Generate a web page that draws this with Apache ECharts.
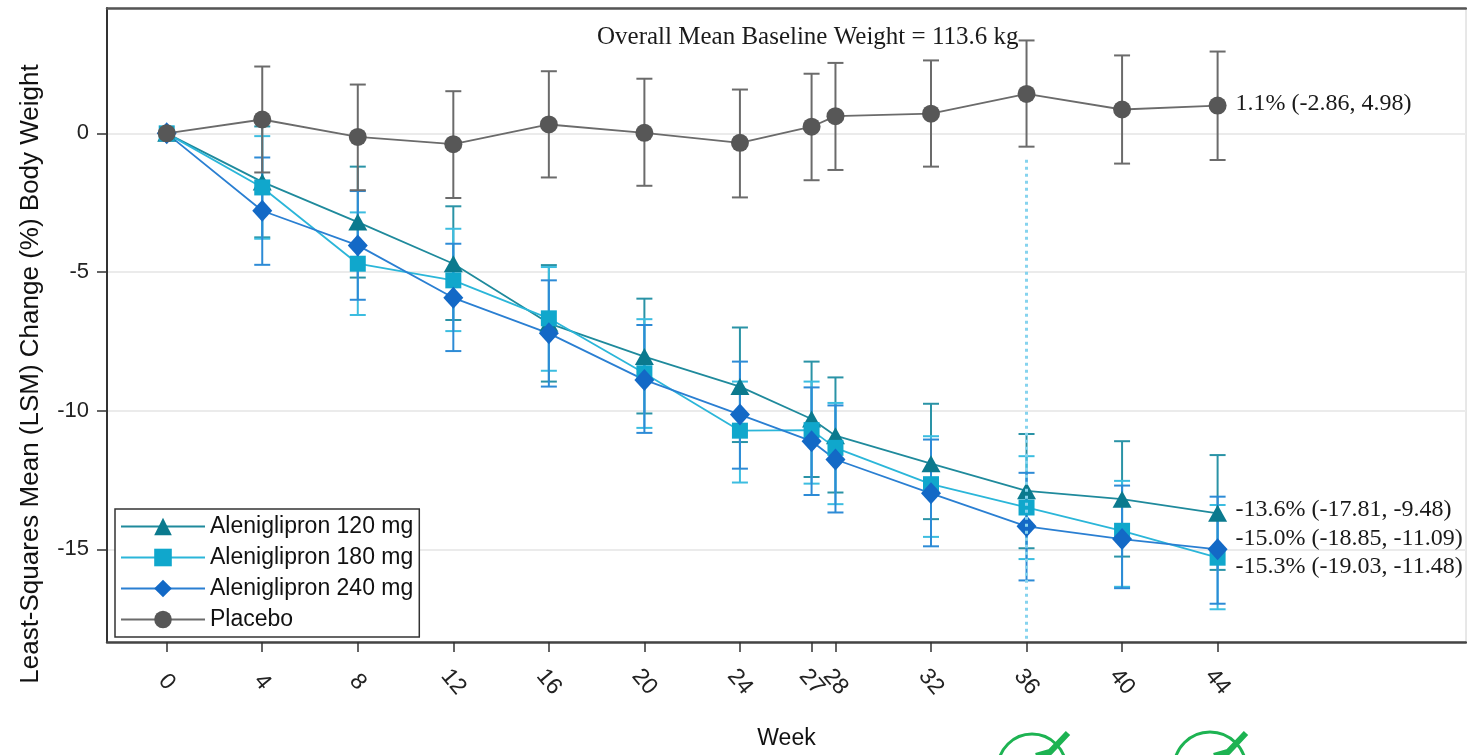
<!DOCTYPE html>
<html>
<head>
<meta charset="utf-8">
<script src="https://cdn.jsdelivr.net/npm/echarts@6/dist/echarts.min.js"></script>
<style>
  html, body { margin: 0; padding: 0; background: #fff; }
  #chart { width: 1467px; height: 755px; }
</style>
</head>
<body>
<div id="chart"></div>
<script>
// weeks on the x axis
const weeks = [0, 4, 8, 12, 16, 20, 24, 27, 28, 32, 36, 40, 44];
const yTicks = [0, -5, -10, -15];

// LSM % change and error bar ends
const lsm120 = [0, -1.75, -3.20, -4.70, -6.85, -8.05, -9.13, -10.30, -10.90, -11.91, -12.89, -13.19, -13.70];
const low120 = [null, -3.75, -5.20, -6.73, -8.95, -10.10, -11.13, -12.39, -12.95, -13.91, -14.96, -15.26, -15.74];
const high120 = [null, 0.25, -1.20, -2.63, -4.75, -5.96, -7.00, -8.23, -8.80, -9.75, -10.84, -11.10, -11.60];

const lsm180 = [0, -1.95, -4.70, -5.30, -6.67, -8.65, -10.72, -10.70, -11.34, -12.65, -13.49, -14.33, -15.30];
const low180 = [null, -3.80, -6.55, -7.13, -8.56, -10.62, -12.59, -12.63, -13.37, -14.55, -15.35, -16.35, -17.16];
const high180 = [null, -0.10, -2.85, -3.44, -4.82, -6.70, -8.95, -8.95, -9.72, -10.92, -11.64, -12.53, -13.40];

const lsm240 = [0, -2.79, -4.04, -5.93, -7.21, -8.89, -10.14, -11.10, -11.76, -12.98, -14.17, -14.63, -15.00];
const low240 = [null, -4.74, -6.00, -7.85, -9.13, -10.80, -12.09, -13.04, -13.67, -14.89, -16.12, -16.40, -16.96];
const high240 = [null, -0.87, -2.08, -3.98, -5.30, -6.91, -8.23, -9.16, -9.81, -11.04, -12.24, -12.70, -13.10];

const lsmPbo = [0, 0.50, -0.13, -0.39, 0.32, 0.02, -0.34, 0.24, 0.62, 0.71, 1.42, 0.86, 1.00];
const lowPbo = [null, -1.41, -2.05, -2.33, -1.59, -1.89, -2.31, -1.69, -1.32, -1.20, -0.48, -1.09, -0.96];
const highPbo = [null, 2.41, 1.76, 1.52, 2.24, 1.97, 1.58, 2.15, 2.54, 2.63, 3.35, 2.81, 2.95];

const names = ['Aleniglipron 120 mg', 'Aleniglipron 180 mg', 'Aleniglipron 240 mg', 'Placebo'];
const endNotes = ['-13.6% (-17.81, -9.48)', '-15.3% (-19.03, -11.48)', '-15.0% (-18.85, -11.09)', '1.1% (-2.86, 4.98)'];
const titleText = 'Overall Mean Baseline Weight = 113.6 kg';
const refWeek = 36;
const refTop = -0.95;

const yMin = -18.34, yMax = 4.52;
const xMin = -2.5, xMax = 54.4;

const serif = 'Liberation Serif, Times New Roman, serif';
const sans = 'Liberation Sans, Arial, sans-serif';

const arms = [
  { name: names[0], lsm: lsm120, low: low120, high: high120, symbol: 'triangle', size: [19, 17],
    color: '#0b7a8e', line: '#1f8a9c', err: '#2a93a6', note: endNotes[0], dy: -4 },
  { name: names[1], lsm: lsm180, low: low180, high: high180, symbol: 'rect', size: [16, 16],
    color: '#10a7cc', line: '#2bb6d9', err: '#3cbde0', note: endNotes[1], dy: 9 },
  { name: names[2], lsm: lsm240, low: low240, high: high240, symbol: 'diamond', size: [20, 22],
    color: '#1369c6', line: '#2a7fd2', err: '#2d8bd6', note: endNotes[2], dy: -11 },
  { name: names[3], lsm: lsmPbo, low: lowPbo, high: highPbo, symbol: 'circle', size: 18,
    color: '#575757', line: '#6b6b6b', err: '#6b6b6b', note: endNotes[3], dy: -2 }
];

function errorSeries(arm) {
  const data = [];
  weeks.forEach((w, i) => {
    if (arm.low[i] != null) data.push([w, arm.low[i], arm.high[i]]);
  });
  return {
    type: 'custom',
    name: arm.name + ' CI',
    data: data,
    z: 2,
    silent: true,
    encode: { x: 0, y: [1, 2] },
    renderItem: function (params, api) {
      const x = api.value(0);
      const top = api.coord([x, api.value(2)]);
      const bot = api.coord([x, api.value(1)]);
      const hw = 8;
      const style = { stroke: arm.err, lineWidth: 2 };
      return {
        type: 'group',
        children: [
          { type: 'line', shape: { x1: top[0], y1: top[1], x2: bot[0], y2: bot[1] }, style: style },
          { type: 'line', shape: { x1: top[0] - hw, y1: top[1], x2: top[0] + hw, y2: top[1] }, style: style },
          { type: 'line', shape: { x1: bot[0] - hw, y1: bot[1], x2: bot[0] + hw, y2: bot[1] }, style: style }
        ]
      };
    }
  };
}

function lineSeries(arm) {
  return {
    type: 'line',
    name: arm.name,
    data: weeks.map((w, i) => [w, arm.lsm[i]]),
    symbol: arm.symbol,
    symbolSize: arm.size,
    showAllSymbol: true,
    itemStyle: { color: arm.color },
    lineStyle: { color: arm.line, width: 1.8 },
    z: 3,
    endLabel: {
      show: true,
      formatter: arm.note,
      fontFamily: serif,
      fontSize: 24,
      color: '#1a1a1a',
      distance: 18,
      offset: [0, arm.dy]
    }
  };
}

const series = [];
arms.forEach(a => series.push(errorSeries(a)));
arms.forEach(a => series.push(lineSeries(a)));

// dotted reference line at week 36
series[5].markLine = {
  silent: true,
  symbol: 'none',
  label: { show: false },
  lineStyle: { color: '#86d3ee', type: [3, 4], width: 3 },
  data: [[{ coord: [refWeek, refTop] }, { coord: [refWeek, yMin] }]]
};

const chart = echarts.init(document.getElementById('chart'));
chart.setOption({
  animation: false,
  backgroundColor: '#fff',
  title: {
    text: titleText,
    left: 597,
    top: 25,
    padding: 0,
    textStyle: { fontFamily: serif, fontSize: 25, fontWeight: 'normal', color: '#1a1a1a' }
  },
  legend: {
    data: names,
    orient: 'vertical',
    left: 115,
    top: 509,
    itemWidth: 84,
    itemHeight: 22,
    itemGap: 8,
    padding: [6, 6, 6, 5],
    borderColor: '#333',
    borderWidth: 1.5,
    backgroundColor: '#fff',
    textStyle: { fontFamily: sans, fontSize: 23, color: '#111', lineHeight: 23 }
  },
  grid: {
    left: 107,
    right: 1,
    top: 8,
    bottom: 110,
    show: true,
    borderColor: '#d0d0d0',
    borderWidth: 1
  },
  xAxis: [
    {
      type: 'value',
      min: xMin,
      max: xMax,
      position: 'bottom',
      name: 'Week',
      nameLocation: 'middle',
      nameGap: 85,
      nameTextStyle: { fontFamily: sans, fontSize: 23, color: '#111' },
      axisLine: { show: true, onZero: false, lineStyle: { color: '#444', width: 2.5 } },
      axisTick: { show: true, customValues: weeks, length: 10, lineStyle: { color: '#333', width: 1.5 } },
      axisLabel: {
        customValues: weeks,
        rotate: -50,
        align: 'center',
        verticalAlign: 'middle',
        margin: 40,
        fontFamily: sans,
        fontSize: 23,
        color: '#222'
      },
      splitLine: { show: false }
    },
    {
      type: 'value',
      min: xMin,
      max: xMax,
      position: 'top',
      axisLine: { show: true, onZero: false, lineStyle: { color: '#555', width: 2.5 } },
      axisTick: { show: false },
      axisLabel: { show: false },
      splitLine: { show: false }
    }
  ],
  yAxis: {
    type: 'value',
    min: yMin,
    max: yMax,
    axisLine: { show: true, onZero: false, lineStyle: { color: '#333', width: 2 } },
    axisTick: { show: true, customValues: yTicks, length: 10, lineStyle: { color: '#333', width: 1.5 } },
    axisLabel: {
      customValues: yTicks,
      margin: 18,
      fontFamily: sans,
      fontSize: 22,
      color: '#222'
    },
    splitLine: { show: true, lineStyle: { color: '#ebebeb', width: 2 } }
  },
  graphic: [
    {
      type: 'text',
      x: 31,
      y: 374,
      rotation: Math.PI / 2,
      style: {
        text: 'Least-Squares Mean (LSM) Change (%) Body Weight',
        fontFamily: sans,
        fontSize: 26,
        fill: '#111',
        align: 'center',
        verticalAlign: 'middle'
      }
    },
    {
      type: 'arc',
      shape: { cx: 1032, cy: 768, r: 34, startAngle: Math.PI, endAngle: 2 * Math.PI },
      style: { stroke: '#1db352', fill: null, lineWidth: 3 }
    },
    {
      type: 'polyline',
      shape: { points: [[1036, 756], [1050, 752], [1068, 733]] },
      style: { stroke: '#1db352', fill: null, lineWidth: 6 }
    },
    {
      type: 'arc',
      shape: { cx: 1210, cy: 768, r: 36, startAngle: Math.PI, endAngle: 2 * Math.PI },
      style: { stroke: '#1db352', fill: null, lineWidth: 3 }
    },
    {
      type: 'polyline',
      shape: { points: [[1214, 756], [1228, 752], [1246, 733]] },
      style: { stroke: '#1db352', fill: null, lineWidth: 6 }
    }
  ],
  series: series
});
</script>
</body>
</html>
